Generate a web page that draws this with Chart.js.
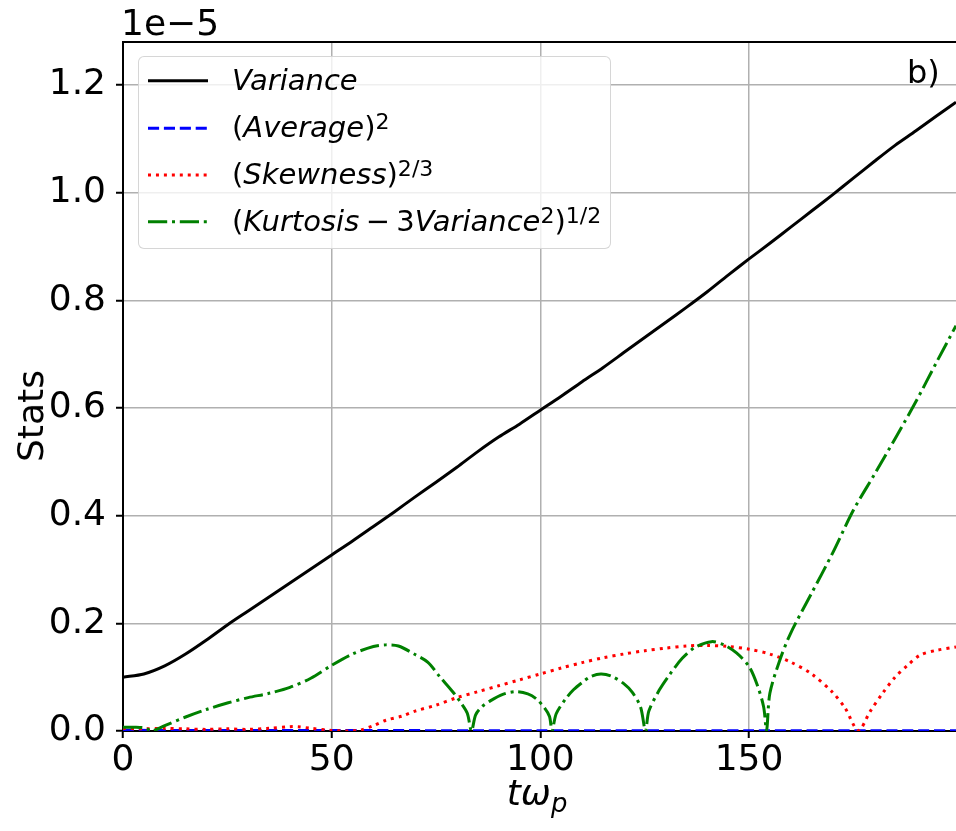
<!DOCTYPE html>
<html><head><meta charset="utf-8">
<script src="https://cdn.jsdelivr.net/npm/chart.js@4.4.1/dist/chart.umd.min.js"></script>
<style>
html,body{margin:0;padding:0;background:#fff;}
#wrap{position:relative;width:956px;height:831px;overflow:hidden;font-family:'DejaVu Sans',sans-serif;color:#000;background:#fff;}
canvas{position:absolute;left:0;top:0;}
.ov{position:absolute;white-space:nowrap;line-height:1;}
.ov i{font-style:italic;}
.sup{font-size:0.76em;position:relative;top:-0.36em;line-height:0;}
.sub{font-size:0.72em;position:relative;top:0.28em;line-height:0;}
.op{margin:0 0.22em;}
#legbox{position:absolute;left:138px;top:56px;width:471px;height:191px;border:1px solid rgba(204,204,204,0.8);border-radius:6px;background:rgba(255,255,255,0.8);}
svg{position:absolute;left:0;top:0;}
</style></head>
<body><div id="wrap">
<canvas id="c" width="956" height="831"></canvas>
<div class="ov" style="left:121px;top:4.5px;font-size:36px;">1e−5</div>
<div class="ov" style="left:907px;top:56px;font-size:32px;">b)</div>
<div class="ov" style="left:31px;top:416px;font-size:36px;transform:translate(-50%,-50%) rotate(-90deg);">Stats</div>
<div class="ov" style="left:537px;top:775px;font-size:36px;transform:translateX(-50%);"><i>tω<span class="sub">p</span></i></div>
<div id="legbox"></div>
<svg width="956" height="831">
<line x1="148" y1="80.7" x2="208" y2="80.7" stroke="#000" stroke-width="3"/>
<line x1="148" y1="128.3" x2="208" y2="128.3" stroke="#0000ff" stroke-width="3" stroke-dasharray="11.1 4.8"/>
<line x1="148" y1="175" x2="208" y2="175" stroke="#ff0000" stroke-width="3" stroke-dasharray="3 4.95"/>
<line x1="148" y1="221.7" x2="208" y2="221.7" stroke="#008000" stroke-width="3" stroke-dasharray="19.2 4.8 3 4.8"/>
</svg>
<div class="ov" style="left:232px;top:65.8px;font-size:29px;"><i>Variance</i></div>
<div class="ov" style="left:232px;top:113.4px;font-size:29px;">(<i>Average</i>)<span class="sup">2</span></div>
<div class="ov" style="left:232px;top:160.1px;font-size:29px;">(<i>Skewness</i>)<span class="sup">2/3</span></div>
<div class="ov" style="left:232px;top:206.8px;font-size:29px;">(<i>Kurtosis</i><span class="op">−</span>3<i>Variance</i><span class="sup">2</span>)<span class="sup">1/2</span></div>
</div>
<script>
// Data (values in units of 1e-5)
const varT = [0,5,10,15,20,25,30,35,40,45,50,55,60,65,70,75,80,85,90,95,100,105,110,115,120,125,130,135,140,145,150,155,160,165,170,175,180,185,190,195,199.6];
const varV = [0.100,0.106,0.121,0.143,0.169,0.197,0.223,0.249,0.275,0.301,0.327,0.353,0.380,0.407,0.435,0.462,0.490,0.519,0.546,0.570,0.596,0.622,0.649,0.675,0.703,0.731,0.759,0.787,0.816,0.847,0.877,0.906,0.936,0.966,0.996,1.027,1.058,1.088,1.115,1.143,1.168];

const avgT = [0,50,100,150,199.6];
const avgV = [0.0012,0.0008,0.0006,0.0005,0.0005];

const skewT = [0,5,10,15,20,25,30,35,40,42,45,50,54,57,60,63,67,70,75,80,85,90,95,100,105,110,115,120,125,130,135,140,145,150,155,160,165,170,173,176.2,179,182,185,188,191,195,199.6];
const skewV = [0.005,0.004,0.005,0.004,0.003,0.004,0.003,0.005,0.008,0.008,0.005,0.001,0.000,0.002,0.010,0.020,0.028,0.037,0.048,0.062,0.073,0.084,0.095,0.106,0.117,0.127,0.136,0.143,0.149,0.154,0.158,0.159,0.157,0.152,0.143,0.128,0.106,0.072,0.043,0.001,0.036,0.070,0.100,0.122,0.141,0.150,0.156];

const kurtT = [0,3,5,6,7,10,15,20,25,30,35,40,45,50,55,60,63,66,70,73,76,79,81,82.5,83.5,84.5,86,88,91,94,97,99,101,102.2,102.8,103.8,106,108,110,112,114.5,117,120,122,124,125.2,126,128.5,131,134,137,141,144,147,150,152,153.5,154.2,155,157.4,160,165,170,175,180,185,190,195,199.6];
const kurtV = [0.007,0.007,0.006,0.003,0.000,0.010,0.026,0.040,0.052,0.062,0.070,0.081,0.098,0.122,0.143,0.157,0.160,0.158,0.142,0.128,0.100,0.073,0.052,0.033,0.000,0.030,0.045,0.056,0.068,0.073,0.069,0.060,0.043,0.027,0.000,0.032,0.059,0.077,0.090,0.101,0.106,0.102,0.088,0.072,0.045,0.000,0.037,0.076,0.105,0.135,0.155,0.166,0.160,0.145,0.120,0.085,0.045,0.000,0.070,0.132,0.182,0.256,0.330,0.410,0.476,0.543,0.612,0.686,0.753];

const xTicks = [0,50,100,150];
const yTicks = [0.0,0.2,0.4,0.6,0.8,1.0,1.2];

const pts = (t, v) => t.map((x, i) => ({x: x, y: v[i]}));

const frame = {
  id: 'frame',
  afterDraw(chart) {
    const {ctx, chartArea: a} = chart;
    ctx.save();
    ctx.strokeStyle = '#000';
    ctx.lineWidth = 2;
    ctx.beginPath();
    ctx.moveTo(a.left - 1, a.top);
    ctx.lineTo(a.right, a.top);
    ctx.stroke();
    ctx.restore();
  }
};

const tickFont = {family: "'DejaVu Sans', sans-serif", size: 36};
const common = {pointRadius: 0, borderWidth: 3, tension: 0.3, fill: false, borderCapStyle: 'butt', borderJoinStyle: 'round'};

new Chart(document.getElementById('c'), {
  type: 'line',
  data: {
    datasets: [
      Object.assign({label: 'Variance', data: pts(varT, varV), borderColor: '#000000', order: 4}, common),
      Object.assign({label: '(Average)^2', data: pts(avgT, avgV), borderColor: '#0000ff', borderDash: [11.1, 4.8], order: 3}, common),
      Object.assign({label: '(Skewness)^(2/3)', data: pts(skewT, skewV), borderColor: '#ff0000', borderDash: [3, 4.95], order: 2}, common),
      Object.assign({label: '(Kurtosis - 3Variance^2)^(1/2)', data: pts(kurtT, kurtV), borderColor: '#008000', borderDash: [19.2, 4.8, 3, 4.8], order: 1}, common)
    ]
  },
  options: {
    responsive: false,
    animation: false,
    devicePixelRatio: 1,
    layout: {padding: {top: 42, left: 0, right: 0, bottom: 0}},
    plugins: {legend: {display: false}, tooltip: {enabled: false}, title: {display: false}},
    scales: {
      x: {
        type: 'linear', min: 0, max: 199.6,
        afterFit(s) { s.height = 100; },
        afterBuildTicks(s) { s.ticks = xTicks.map(v => ({value: v})); },
        ticks: {font: tickFont, color: '#000', padding: 1, maxRotation: 0, autoSkip: false, includeBounds: false, callback: v => String(v)},
        grid: {color: '#b0b0b0', lineWidth: 1.5, tickLength: 7, tickColor: '#000', tickWidth: 2},
        border: {color: '#000', width: 2}
      },
      y: {
        type: 'linear', min: 0, max: 1.28,
        afterFit(s) { s.width = 123; },
        afterBuildTicks(s) { s.ticks = yTicks.map(v => ({value: v})); },
        ticks: {font: tickFont, color: '#000', padding: 10, autoSkip: false, includeBounds: false, callback: v => Number(v).toFixed(1)},
        grid: {color: '#b0b0b0', lineWidth: 1.5, tickLength: 7, tickColor: '#000', tickWidth: 2},
        border: {color: '#000', width: 2}
      }
    }
  },
  plugins: [frame]
});
</script>
</body></html>
